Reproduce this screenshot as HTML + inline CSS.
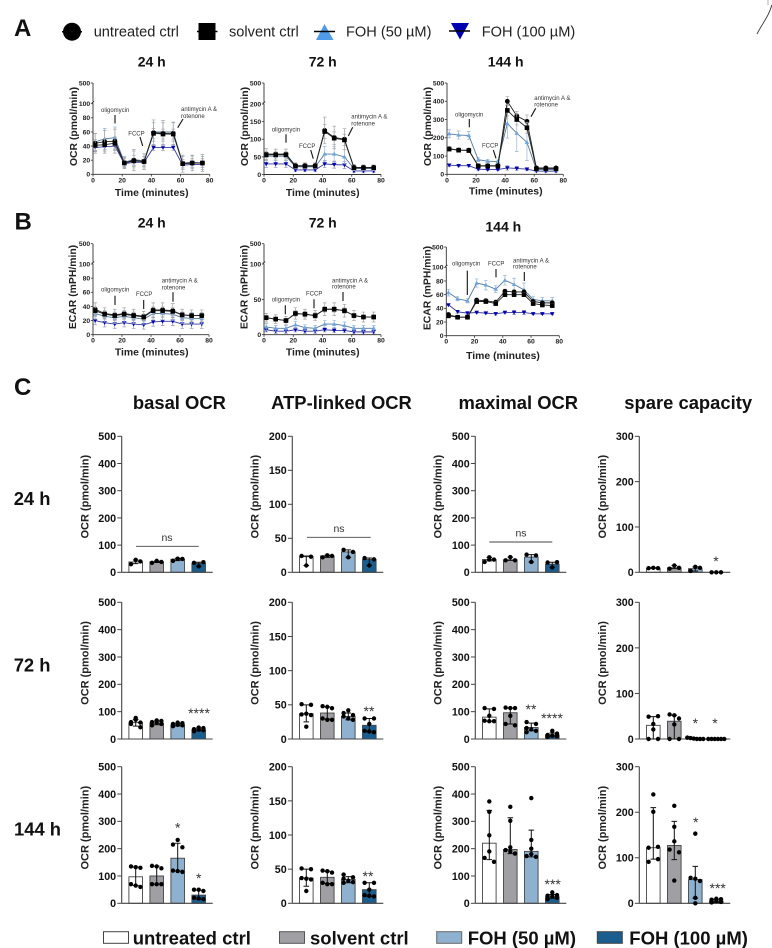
<!DOCTYPE html>
<html lang="en">
<head>
<meta charset="utf-8">
<title>Mitochondrial respiration after FOH treatment</title>
<style>
html,body{margin:0;padding:0;background:#fff;}
svg{display:block;font-family:"Liberation Sans",sans-serif;}
.panel{font-size:24px;font-weight:700;fill:#111;}
.ct{font-size:14px;font-weight:700;text-anchor:middle;fill:#111;}
.ylab{font-size:10.4px;font-weight:700;text-anchor:middle;fill:#222;}
.xlab{font-size:10.4px;font-weight:700;text-anchor:middle;fill:#222;}
.ann{font-size:6px;fill:#333;}
.arrow{stroke:#111;stroke-width:1.1;fill:none;}
.coltitle{font-size:18.4px;font-weight:700;text-anchor:middle;fill:#111;}
.rowlab{font-size:18.4px;font-weight:700;fill:#111;}
.bylab{font-size:11px;font-weight:700;text-anchor:middle;fill:#222;}
.ns{font-size:10.5px;text-anchor:middle;fill:#333;}
.star{font-size:14px;text-anchor:middle;fill:#333;}
.toplegend{font-size:14.6px;fill:#222;}
.botlegend{font-size:18.5px;font-weight:700;fill:#111;}
</style>
</head>
<body>
<svg id="figure" width="772" height="948" viewBox="0 0 772 948" xmlns="http://www.w3.org/2000/svg">
  <rect width="772" height="948" fill="#fff"/>
  <path d="M757 34 C762 24 769 16 771.8 5" fill="none" stroke="#333" stroke-width="0.9"/>
  <line x1="768" y1="0" x2="768" y2="5" stroke="#999" stroke-width="0.8"/>

  <text class="panel" x="14" y="36">A</text>
  <text class="panel" x="14.5" y="229.5">B</text>
  <text class="panel" x="14" y="395">C</text>

  <g>
    <g>
      <line x1="62" y1="31.7" x2="82" y2="31.7" stroke="#000" stroke-width="1.5"/>
      <circle cx="72" cy="31.7" r="9" fill="#000"/>
      <text class="toplegend" x="93.7" y="36.7">untreated ctrl</text>
    </g>
    <g>
      <line x1="197" y1="31.5" x2="217.5" y2="31.5" stroke="#000" stroke-width="1.5"/>
      <rect x="198.5" y="23" width="17" height="17" fill="#000"/>
      <text class="toplegend" x="229" y="36.7">solvent ctrl</text>
    </g>
    <g>
      <polygon points="324.5,24 333.5,40 316,40" fill="#4f9be8"/>
      <line x1="314" y1="31.5" x2="335" y2="31.5" stroke="#000" stroke-width="1.5"/>
      <text class="toplegend" x="346" y="36.7">FOH (50 µM)</text>
    </g>
    <g>
      <polygon points="451,23 469,23 460,39.5" fill="#0000b0"/>
      <line x1="449" y1="31" x2="470" y2="31" stroke="#000" stroke-width="1.5"/>
      <text class="toplegend" x="481.7" y="36.7">FOH (100 µM)</text>
    </g>
  </g>

  <g>
    <text class="ct" x="151.7" y="66.7">24 h</text>
    <text class="ct" x="322.7" y="66.7">72 h</text>
    <text class="ct" x="505.7" y="66.7">144 h</text>
    <text class="ct" x="151.7" y="227.7">24 h</text>
    <text class="ct" x="322.7" y="227.7">72 h</text>
    <text class="ct" x="503.3" y="231.7">144 h</text>
  </g>

  <g>
    <text class="ylab" transform="translate(77 126.5) rotate(-90)">OCR (pmol/min)</text>
    <text class="ylab" transform="translate(248 126.5) rotate(-90)">OCR (pmol/min)</text>
    <text class="ylab" transform="translate(431 126.5) rotate(-90)">OCR (pmol/min)</text>
    <text class="ylab" transform="translate(76 287) rotate(-90)">ECAR (mPH/min)</text>
    <text class="ylab" transform="translate(247.5 287) rotate(-90)">ECAR (mPH/min)</text>
    <text class="ylab" transform="translate(430.5 288) rotate(-90)">ECAR (mPH/min)</text>
    <text class="xlab" x="151.7" y="196">Time (minutes)</text>
    <text class="xlab" x="322.7" y="196">Time (minutes)</text>
    <text class="xlab" x="505.7" y="194.5">Time (minutes)</text>
    <text class="xlab" x="151.7" y="355.7">Time (minutes)</text>
    <text class="xlab" x="322.7" y="355.7">Time (minutes)</text>
    <text class="xlab" x="503" y="359">Time (minutes)</text>
  </g>

  <g>
    <text class="ann" x="101" y="112">oligomycin</text>
    <line class="arrow" x1="115" y1="115" x2="115" y2="123.5"/>
    <text class="ann" x="128.3" y="135.3">FCCP</text>
    <line class="arrow" x1="140" y1="137" x2="142.7" y2="146"/>
    <text class="ann" x="181" y="111">antimycin A &amp;</text>
    <text class="ann" x="181" y="118">rotenone</text>
    <line class="arrow" x1="183" y1="119" x2="177.7" y2="127.7"/>

    <text class="ann" x="271.7" y="131.7">oligomycin</text>
    <line class="arrow" x1="286" y1="134.3" x2="286" y2="142.7"/>
    <text class="ann" x="299" y="148">FCCP</text>
    <line class="arrow" x1="310.7" y1="150" x2="313.3" y2="158.7"/>
    <text class="ann" x="351.3" y="118.7">antimycin A &amp;</text>
    <text class="ann" x="351.3" y="125.7">rotenone</text>
    <line class="arrow" x1="352.7" y1="127.3" x2="348.3" y2="136"/>

    <text class="ann" x="455" y="116.3">oligomycin</text>
    <line class="arrow" x1="469.3" y1="119" x2="469.3" y2="127.3"/>
    <text class="ann" x="482" y="147.3">FCCP</text>
    <line class="arrow" x1="493.3" y1="150" x2="496" y2="158.3"/>
    <text class="ann" x="534.3" y="100">antimycin A &amp;</text>
    <text class="ann" x="534.3" y="106.3">rotenone</text>
    <line class="arrow" x1="535.7" y1="108.3" x2="531" y2="116.7"/>

    <text class="ann" x="101" y="291.3">oligomycin</text>
    <line class="arrow" x1="115" y1="295.7" x2="115" y2="305"/>
    <text class="ann" x="136" y="296">FCCP</text>
    <line class="arrow" x1="143.7" y1="300" x2="143.7" y2="309"/>
    <text class="ann" x="161.7" y="282.7">antimycin A &amp;</text>
    <text class="ann" x="161.7" y="289.3">rotenone</text>
    <line class="arrow" x1="173" y1="292.3" x2="173" y2="301.7"/>

    <text class="ann" x="271.7" y="301.7">oligomycin</text>
    <line class="arrow" x1="285.3" y1="305.3" x2="285.3" y2="314.3"/>
    <text class="ann" x="306" y="295.3">FCCP</text>
    <line class="arrow" x1="314" y1="299.3" x2="314" y2="308.3"/>
    <text class="ann" x="332" y="282.3">antimycin A &amp;</text>
    <text class="ann" x="332" y="288.7">rotenone</text>
    <line class="arrow" x1="343" y1="292" x2="343" y2="301"/>

    <text class="ann" x="452" y="265.3">oligomycin</text>
    <line class="arrow" x1="467.3" y1="270.7" x2="467.3" y2="295"/>
    <text class="ann" x="488" y="265.3">FCCP</text>
    <line class="arrow" x1="496" y1="269" x2="496" y2="277.3"/>
    <text class="ann" x="513" y="262.3">antimycin A &amp;</text>
    <text class="ann" x="513" y="268.7">rotenone</text>
    <line class="arrow" x1="524.3" y1="272" x2="524.3" y2="281"/>
  </g>

  <g>
    <text class="coltitle" x="179.4" y="409">basal OCR</text>
    <text class="coltitle" x="341.5" y="409">ATP-linked OCR</text>
    <text class="coltitle" x="518.3" y="409">maximal OCR</text>
    <text class="coltitle" x="688.2" y="409">spare capacity</text>
  </g>
  <g>
    <text class="rowlab" x="13.7" y="505">24 h</text>
    <text class="rowlab" x="13.7" y="671.7">72 h</text>
    <text class="rowlab" x="14" y="835.7">144 h</text>
  </g>

  <g>
    <text class="bylab" transform="translate(88.5 496.7) rotate(-90)">OCR (pmol/min)</text>
    <text class="bylab" transform="translate(258.7 496.7) rotate(-90)">OCR (pmol/min)</text>
    <text class="bylab" transform="translate(441.7 496.7) rotate(-90)">OCR (pmol/min)</text>
    <text class="bylab" transform="translate(606 496.7) rotate(-90)">OCR (pmol/min)</text>
    <text class="bylab" transform="translate(88.5 663) rotate(-90)">OCR (pmol/min)</text>
    <text class="bylab" transform="translate(258.7 663) rotate(-90)">OCR (pmol/min)</text>
    <text class="bylab" transform="translate(441.7 663) rotate(-90)">OCR (pmol/min)</text>
    <text class="bylab" transform="translate(606 663) rotate(-90)">OCR (pmol/min)</text>
    <text class="bylab" transform="translate(88.5 827.7) rotate(-90)">OCR (pmol/min)</text>
    <text class="bylab" transform="translate(258.7 827.7) rotate(-90)">OCR (pmol/min)</text>
    <text class="bylab" transform="translate(441.7 827.7) rotate(-90)">OCR (pmol/min)</text>
    <text class="bylab" transform="translate(606 827.7) rotate(-90)">OCR (pmol/min)</text>
  </g>

  <g>
    <line x1="136" y1="546.3" x2="198.7" y2="546.3" stroke="#444" stroke-width="0.9"/>
    <text class="ns" x="167" y="541">ns</text>
    <line x1="307" y1="537.3" x2="370.7" y2="537.3" stroke="#444" stroke-width="0.9"/>
    <text class="ns" x="339" y="532">ns</text>
    <line x1="489.3" y1="542" x2="552.3" y2="542" stroke="#444" stroke-width="0.9"/>
    <text class="ns" x="521" y="536.5">ns</text>
    <text class="star" x="716" y="566">*</text>
    <text class="star" x="199" y="718">****</text>
    <text class="star" x="369" y="716">**</text>
    <text class="star" x="531" y="714">**</text>
    <text class="star" x="552" y="723">****</text>
    <text class="star" x="695.3" y="728">*</text>
    <text class="star" x="715" y="728">*</text>
    <text class="star" x="177.7" y="832.3">*</text>
    <text class="star" x="198.7" y="883">*</text>
    <text class="star" x="368" y="881">**</text>
    <text class="star" x="552.7" y="889">***</text>
    <text class="star" x="695.7" y="827">*</text>
    <text class="star" x="717.7" y="893">***</text>
  </g>

  <g>
    <g>
      <rect x="103.5" y="931.7" width="25" height="11.6" fill="#fff" stroke="#444" stroke-width="1"/>
      <text class="botlegend" x="132.7" y="944.3">untreated ctrl</text>
    </g>
    <g>
      <rect x="279.5" y="931.7" width="25" height="11.6" fill="#a09fa3" stroke="#555" stroke-width="1"/>
      <text class="botlegend" x="310" y="944.3">solvent ctrl</text>
    </g>
    <g>
      <rect x="436.7" y="931.7" width="25" height="11.6" fill="#8db1cf" stroke="#666" stroke-width="1"/>
      <text class="botlegend" x="467.7" y="944.3">FOH (50 µM)</text>
    </g>
    <g>
      <rect x="597.3" y="931.7" width="25" height="11.6" fill="#1a5e90" stroke="#444" stroke-width="1"/>
      <text class="botlegend" x="629.3" y="944.3">FOH (100 µM)</text>
    </g>
  </g>
</svg>

<script>
/* ---------- time-course data ---------- */
const timeMinutes = [1.5,8,15,21.5,28,35,41.5,48,55,61.5,68,75];
const timeTicks = [0,20,40,60,80];

const ocr24Ticks = [0,20,40,60,80,100,500];
const ocr24Untreated = [44,46,47,16,20,18,59,58,58,15,16,16];
const ocr24UntreatedSd = [14,16,17,8,15,11,18,18,16,12,11,12];
const ocr24Solvent = [41,42,44,16,19,18,58,57,57,15,16,16];
const ocr24SolventSd = [8,9,9,6,8,7,7,7,7,6,6,6];
const ocr24Foh50 = [46,50,52,17,21,19,60,60,60,16,17,16];
const ocr24Foh50Sd = [12,15,15,8,12,10,13,13,13,9,9,9];
const ocr24Foh100 = [38,39,40,15,17,17,38,38,38,13,14,14];
const ocr24Foh100Sd = [6,6,6,4,4,4,4,4,4,4,4,4];

const ocr72Ticks = [0,50,100,150,200,500];
const ocr72Untreated = [58,58,58,25,25,25,125,105,100,20,20,20];
const ocr72UntreatedSd = [15,14,14,8,8,8,38,32,30,8,7,7];
const ocr72Solvent = [56,56,56,24,24,24,122,103,98,19,19,19];
const ocr72SolventSd = [8,8,8,5,5,5,20,18,16,5,5,5];
const ocr72Foh50 = [52,52,52,22,22,22,58,58,50,17,17,17];
const ocr72Foh50Sd = [12,12,12,6,6,6,22,22,20,6,6,6];
const ocr72Foh100 = [30,30,30,13,13,13,30,28,27,10,10,10];
const ocr72Foh100Sd = [10,10,10,5,5,5,10,10,10,5,5,5];

const ocr144Ticks = [0,100,200,300,400,500];
const ocr144Untreated = [140,133,132,47,47,47,400,320,290,35,35,35];
const ocr144UntreatedSd = [5,5,5,5,5,5,25,25,35,5,4,4];
const ocr144Solvent = [138,132,130,45,45,45,350,300,255,30,30,30];
const ocr144SolventSd = [6,6,6,6,6,6,30,30,30,4,4,4];
const ocr144Foh50 = [222,215,213,80,72,70,278,225,175,25,25,25];
const ocr144Foh50Sd = [22,22,22,10,8,8,80,100,100,5,5,5];
const ocr144Foh100 = [50,47,47,28,26,26,35,32,28,18,17,17];
const ocr144Foh100Sd = [6,6,6,5,5,5,12,10,8,5,5,5];

const ecar24Ticks = [0,20,40,60,80,100,500];
const ecar24Untreated = [36,30,28,30,28,26,35,35,34,28,27,27];
const ecar24UntreatedSd = [9,8,8,8,8,7,10,10,10,8,8,8];
const ecar24Solvent = [34,29,27,29,27,25,34,34,33,28,27,27];
const ecar24SolventSd = [5,4,4,4,4,4,5,5,5,4,4,4];
const ecar24Foh50 = [30,26,24,26,24,22,30,30,29,24,23,23];
const ecar24Foh50Sd = [8,8,8,8,8,7,9,9,9,8,8,8];
const ecar24Foh100 = [20,17,15,17,15,14,18,19,19,15,15,15];
const ecar24Foh100Sd = [6,6,6,6,6,6,6,6,6,6,6,6];

const ecar72Ticks = [0,50,100,500];
const ecar72Untreated = [24,22,20,30,29,27,36,36,34,27,25,25];
const ecar72UntreatedSd = [6,6,6,8,7,7,9,9,9,7,7,7];
const ecar72Solvent = [24,22,20,30,29,27,36,36,34,27,25,25];
const ecar72SolventSd = [3,3,3,4,4,4,4,4,4,3,3,3];
const ecar72Foh50 = [11,9,9,14,10,9,15,15,13,9,9,9];
const ecar72Foh50Sd = [5,4,4,5,4,4,5,5,5,4,4,4];
const ecar72Foh100 = [7,5,5,7,5,5,7,6,6,4,4,4];
const ecar72Foh100Sd = [3,3,3,3,3,3,3,3,3,3,3,3];

const ecar144Ticks = [0,20,40,60,80,100,500];
const ecar144Untreated = [31,27,27,52,51,49,65,64,64,50,48,48];
const ecar144UntreatedSd = [2,2,2,3,3,3,3,3,3,3,3,3];
const ecar144Solvent = [29,27,27,50,50,47,60,60,60,47,45,44];
const ecar144SolventSd = [2,2,2,3,3,3,3,3,3,3,3,3];
const ecar144Foh50 = [63,54,51,77,74,68,81,75,67,53,51,51];
const ecar144Foh50Sd = [5,3,3,6,7,5,7,9,10,4,5,5];
const ecar144Foh100 = [45,35,33,34,33,32,34,34,34,32,32,32];
const ecar144Foh100Sd = [1,2,2,2,1,2,2,3,3,1,1,1];

/* ---------- endpoint data: one entry per treatment group ---------- */
const basalTicks = [0,100,200,300,400,500];
const atpTicks = [0,50,100,150,200];
const maximalTicks = [0,100,200,300,400,500];
const spareTicks = [0,100,200,300];

const basal24Dots = [[30,46,40],[35,42,38],[42,50,49],[35,22,37]];
const basal24Bars = [38,38,48,33];
const basal24Low = [32,36,43,22];
const basal24High = [45,41,51,37];
const atp24Dots = [[24,10,23],[22,25,24],[33,22,30],[21,10,19]];
const atp24Bars = [23,24,30,19];
const atp24Low = [10,22,22,10];
const atp24High = [24,25,33,21];
const maximal24Dots = [[38,47,47,55],[44,56,44],[65,38,62],[36,18,37]];
const maximal24Bars = [47,46,56,30];
const maximal24Low = [42,44,38,18];
const maximal24High = [55,56,65,37];
const spare24Dots = [[9,10,9],[8,15,10],[3,12,10],[0,0,0]];
const spare24Bars = [9,10,8,0];
const spare24Low = [9,8,3,0];
const spare24High = [10,15,12,0];

const basal72Dots = [[62,77,70,60,55,43],[68,66,62,60,55,50],[60,58,55,52,50,47],[42,40,36,34,32,28]];
const basal72Bars = [60,58,52,34];
const basal72Low = [47,52,48,30];
const basal72High = [72,66,57,40];
const atp72Dots = [[51,50,36,37,35,18],[48,47,45,30,28,28],[42,38,35,33,30,28],[30,30,22,12,11,10]];
const atp72Bars = [37,38,33,20];
const atp72Low = [25,29,28,10];
const atp72High = [50,47,38,30];
const maximal72Dots = [[113,110,85,67,65,65],[115,113,113,85,55,50],[62,55,40,35,30,25],[30,20,15,12,10,8]];
const maximal72Bars = [80,96,42,15];
const maximal72Low = [65,55,30,10];
const maximal72High = [110,113,58,22];
const spare72Dots = [[49,50,33,21,0,0],[54,52,45,32,0,0],[3,2,1,0,0,0],[0,0,0,0,0,0]];
const spare72Bars = [30,39,1,0];
const spare72Low = [0,0,0,0];
const spare72High = [49,52,3,0];

const basal144Dots = [[135,132,130,70,65,60],[137,135,128,70,70,70],[232,215,205,120,118,115],[50,50,45,20,18,15]];
const basal144Bars = [97,100,165,30];
const basal144Low = [65,70,118,15];
const basal144High = [133,136,220,48];
const atp144Dots = [[51,50,37,36,35,18],[48,47,45,30,28,28],[42,38,36,33,31,30],[30,30,20,12,11,10]];
const atp144Bars = [37,38,35,20];
const atp144Low = [25,29,30,10];
const atp144High = [50,47,39,30];
const maximal144Dots = [[373,335,249,190,166,152],[353,302,205,195,190,182],[385,232,200,173,180,170],[40,30,28,25,20,15]];
const maximal144Bars = [220,197,190,24];
const maximal144Low = [160,182,170,18];
const maximal144High = [340,313,268,32];
const spare144Dots = [[239,201,122,124,91,97],[214,168,136,118,112,50],[153,56,54,49,12,0],[10,9,8,5,3,2]];
const spare144Bars = [122,127,52,5];
const spare144Low = [97,96,11,2];
const spare144High = [210,180,81,9];

/* ---------- drawing ---------- */
const svgNS = 'http://www.w3.org/2000/svg';
const figure = document.getElementById('figure');

function make(parent, tag, props, text) {
  const node = document.createElementNS(svgNS, tag);
  for (const key in props) node.setAttribute(key, props[key]);
  if (text !== undefined) node.textContent = text;
  parent.appendChild(node);
  return node;
}

function lineYScale(f) {
  return function (v) {
    if (v > f.low) return f.yHigh + (v - f.low) / (f.max - f.low) * (f.yTop - f.yHigh);
    return f.y0 + v / f.low * (f.yLow - f.y0);
  };
}
function lineXScale(f) {
  return function (t) { return f.x0 + t / 80 * (f.x1 - f.x0); };
}

const seriesStyles = [
  {key: 'foh100', shape: 'down', fill: '#0000b0', line: '#3a3a9a', err: '#8f8fc4'},
  {key: 'foh50', shape: 'up', fill: '#6fa6e2', line: '#55789c', err: '#98b4d0'},
  {key: 'untreated', shape: 'circle', fill: '#000', line: '#222', err: '#a0a0a0'},
  {key: 'solvent', shape: 'square', fill: '#000', line: '#222', err: '#a8a8a8'}
];

function drawMarker(g, shape, x, y, fill) {
  let m;
  if (shape === 'circle') {
    m = make(g, 'circle', {cx: x, cy: y, r: 2.4, fill: fill});
  } else if (shape === 'square') {
    m = make(g, 'rect', {x: x - 2.3, y: y - 2.3, width: 4.6, height: 4.6, fill: fill});
  } else if (shape === 'up') {
    m = make(g, 'polygon', {points: [x, y - 2.4, x + 2.3, y + 1.6, x - 2.3, y + 1.6].join(' '), fill: fill});
  } else {
    m = make(g, 'polygon', {points: [x - 2.3, y - 1.7, x + 2.3, y - 1.7, x, y + 2.3].join(' '), fill: fill});
  }
  
  
}

function drawLineChart(chart) {
  const f = chart.frame;
  const xs = lineXScale(f);
  const ys = lineYScale(f);
  const g = make(figure, 'g', {});
  
  

  seriesStyles.forEach(function (style) {
    const series = chart.series[style.key];
    const sg = make(g, 'g', {});
    
    
    timeMinutes.forEach(function (t, i) {
      const x = xs(t);
      const hi = ys(series.values[i] + series.sd[i]);
      const lo = ys(Math.max(0, series.values[i] - series.sd[i]));
      const eb = make(sg, 'path', {
        d: 'M' + x + ' ' + lo + 'V' + hi + 'M' + (x - 1.8) + ' ' + hi + 'H' + (x + 1.8) + 'M' + (x - 1.8) + ' ' + lo + 'H' + (x + 1.8),
        stroke: style.err, 'stroke-width': 0.7, fill: 'none'
      });
      
      
    });
    const path = make(sg, 'polyline', {
      points: timeMinutes.map(function (t, i) { return xs(t) + ',' + ys(series.values[i]); }).join(' '),
      fill: 'none', stroke: style.line, 'stroke-width': 0.9
    });
    
    
    timeMinutes.forEach(function (t, i) {
      drawMarker(sg, style.shape, xs(t), ys(series.values[i]), style.fill);
    });
  });

  const axisColor = '#333';
  let yPath = 'M' + f.x0 + ' ' + f.y0 + 'V' + f.yLow;
  if (f.yHigh !== f.yLow) {
    yPath += 'l-0.8 -1 l1.6 -1 l-0.8 -0.6V' + f.yTop;
  }
  const yAxis = make(g, 'path', {d: yPath, fill: 'none', stroke: axisColor, 'stroke-width': 0.9});
  
  
  const xAxis = make(g, 'line', {x1: f.x0, x2: f.x1, y1: f.y0, y2: f.y0, stroke: axisColor, 'stroke-width': 0.9});
  
  

  chart.ticks.forEach(function (tick) {
    const y = ys(tick);
    const mark = make(g, 'line', {x1: f.x0 - 2.2, x2: f.x0, y1: y, y2: y, stroke: axisColor, 'stroke-width': 0.8});
    
    
    const label = make(g, 'text', {x: f.x0 - 2.8, y: y + 2.4, 'text-anchor': 'end', 'font-size': 6.8, 'font-weight': 700, fill: '#222'}, tick);
    
    
  });
  timeTicks.forEach(function (tick) {
    const x = xs(tick);
    const mark = make(g, 'line', {x1: x, x2: x, y1: f.y0, y2: f.y0 + 2.2, stroke: axisColor, 'stroke-width': 0.8});
    
    
    const label = make(g, 'text', {x: x, y: f.y0 + 8, 'text-anchor': 'middle', 'font-size': 6.8, 'font-weight': 700, fill: '#222'}, tick);
    
    
  });
}

const lineCharts = [
  {name: 'ocr-24h-chart', ticks: ocr24Ticks,
   frame: {x0: 93, x1: 209.7, y0: 174.3, yLow: 103.7, yHigh: 101, yTop: 83, low: 100, max: 500},
   series: {untreated: {values: ocr24Untreated, sd: ocr24UntreatedSd}, solvent: {values: ocr24Solvent, sd: ocr24SolventSd},
            foh50: {values: ocr24Foh50, sd: ocr24Foh50Sd}, foh100: {values: ocr24Foh100, sd: ocr24Foh100Sd}}},
  {name: 'ocr-72h-chart', ticks: ocr72Ticks,
   frame: {x0: 264, x1: 381, y0: 174.5, yLow: 104, yHigh: 101.5, yTop: 83, low: 200, max: 500},
   series: {untreated: {values: ocr72Untreated, sd: ocr72UntreatedSd}, solvent: {values: ocr72Solvent, sd: ocr72SolventSd},
            foh50: {values: ocr72Foh50, sd: ocr72Foh50Sd}, foh100: {values: ocr72Foh100, sd: ocr72Foh100Sd}}},
  {name: 'ocr-144h-chart', ticks: ocr144Ticks,
   frame: {x0: 447, x1: 563.3, y0: 174.3, yLow: 83, yHigh: 83, yTop: 83, low: 500, max: 500},
   series: {untreated: {values: ocr144Untreated, sd: ocr144UntreatedSd}, solvent: {values: ocr144Solvent, sd: ocr144SolventSd},
            foh50: {values: ocr144Foh50, sd: ocr144Foh50Sd}, foh100: {values: ocr144Foh100, sd: ocr144Foh100Sd}}},
  {name: 'ecar-24h-chart', ticks: ecar24Ticks,
   frame: {x0: 93, x1: 209, y0: 334.7, yLow: 264, yHigh: 261.5, yTop: 243.7, low: 100, max: 500},
   series: {untreated: {values: ecar24Untreated, sd: ecar24UntreatedSd}, solvent: {values: ecar24Solvent, sd: ecar24SolventSd},
            foh50: {values: ecar24Foh50, sd: ecar24Foh50Sd}, foh100: {values: ecar24Foh100, sd: ecar24Foh100Sd}}},
  {name: 'ecar-72h-chart', ticks: ecar72Ticks,
   frame: {x0: 264, x1: 381, y0: 334.7, yLow: 264, yHigh: 261.5, yTop: 243.7, low: 100, max: 500},
   series: {untreated: {values: ecar72Untreated, sd: ecar72UntreatedSd}, solvent: {values: ecar72Solvent, sd: ecar72SolventSd},
            foh50: {values: ecar72Foh50, sd: ecar72Foh50Sd}, foh100: {values: ecar72Foh100, sd: ecar72Foh100Sd}}},
  {name: 'ecar-144h-chart', ticks: ecar144Ticks,
   frame: {x0: 446.3, x1: 559.3, y0: 335.7, yLow: 267.3, yHigh: 265, yTop: 247, low: 100, max: 500},
   series: {untreated: {values: ecar144Untreated, sd: ecar144UntreatedSd}, solvent: {values: ecar144Solvent, sd: ecar144SolventSd},
            foh50: {values: ecar144Foh50, sd: ecar144Foh50Sd}, foh100: {values: ecar144Foh100, sd: ecar144Foh100Sd}}}
];
lineCharts.forEach(drawLineChart);

/* ---------- bar panels ---------- */
const groupFills = ['#ffffff', '#a09fa3', '#8db1cf', '#1a5e90'];

function swarmOffsets(values, pxPerUnit) {
  const order = values.map(function (v, i) { return i; }).sort(function (a, b) { return values[a] - values[b] || a - b; });
  const offsets = new Array(values.length).fill(0);
  const columns = [-4.7, 4.7, 0];
  let bin = [];
  function flush() {
    const n = bin.length;
    if (n <= 3) {
      const members = bin.slice().sort(function (a, b) { return a - b; });
      members.forEach(function (idx, k) {
        offsets[idx] = n > 1 ? -4.7 + k * (9.4 / (n - 1)) : 0;
      });
      return;
    }
    const span = (values[bin[n - 1]] - values[bin[0]]) * pxPerUnit;
    if (span < 2) {
      const flat = bin.slice().sort(function (a, b) { return a - b; });
      flat.forEach(function (idx, k) {
        offsets[idx] = -8 + k * (16 / (n - 1));
      });
    } else {
      bin.forEach(function (idx, k) {
        offsets[idx] = columns[k % 3];
      });
    }
  }
  order.forEach(function (idx) {
    if (bin.length && (values[idx] - values[bin[0]]) * pxPerUnit > 4.5) {
      flush();
      bin = [];
    }
    bin.push(idx);
  });
  flush();
  return offsets;
}

function drawBarPanel(p) {
  const scale = function (v) { return p.y0 + v / p.max * (p.yTop - p.y0); };
  const pxPerUnit = (p.y0 - p.yTop) / p.max;
  const g = make(figure, 'g', {});
  
  

  p.bars.forEach(function (value, i) {
    const cx = p.x + 14 + i * 21;
    const bar = make(g, 'rect', {x: cx - 6.8, y: scale(value), width: 13.6, height: p.y0 - scale(value), fill: groupFills[i], stroke: '#444', 'stroke-width': 0.9});
    
    
  });

  const axisColor = '#444';
  const yAxis = make(g, 'line', {x1: p.x, x2: p.x, y1: p.y0, y2: p.yTop, stroke: axisColor, 'stroke-width': 1.1});
  
  
  const xAxis = make(g, 'line', {x1: p.x, x2: p.x + 91, y1: p.y0, y2: p.y0, stroke: axisColor, 'stroke-width': 1.1});
  
  

  p.ticks.forEach(function (tick) {
    const y = scale(tick);
    const mark = make(g, 'line', {x1: p.x - 4.4, x2: p.x, y1: y, y2: y, stroke: axisColor, 'stroke-width': 1});
    
    
    const label = make(g, 'text', {x: p.x - 5.6, y: y + 3.9, 'text-anchor': 'end', 'font-size': 10.7, 'font-weight': 700, fill: '#111'}, tick);
    
    
  });

  p.bars.forEach(function (value, i) {
    const cx = p.x + 14 + i * 21;
    const hi = scale(p.high[i]);
    const lo = scale(p.low[i]);
    const eb = make(g, 'path', {
      d: 'M' + cx + ' ' + lo + 'V' + hi + 'M' + (cx - 2.8) + ' ' + hi + 'H' + (cx + 2.8) + 'M' + (cx - 2.8) + ' ' + lo + 'H' + (cx + 2.8),
      stroke: '#111', 'stroke-width': 1, fill: 'none'
    });
    
    
    const offsets = swarmOffsets(p.dots[i], pxPerUnit);
    p.dots[i].forEach(function (v, k) {
      const dot = make(g, 'circle', {cx: cx + offsets[k], cy: scale(v), r: 2.2, fill: '#000'});
      
      
    });
  });
}

const columnX = [121.7, 292.3, 475.3, 639.3];
const rowFrames = [
  {y0: 572.3, yTop: 436.3, tag: '24h'},
  {y0: 739, yTop: 602.3, tag: '72h'},
  {y0: 903.3, yTop: 766.7, tag: '144h'}
];
const barPanels = [
  {name: 'basal-ocr-24h-chart', col: 0, row: 0, max: 500, ticks: basalTicks, dots: basal24Dots, bars: basal24Bars, low: basal24Low, high: basal24High},
  {name: 'atp-linked-ocr-24h-chart', col: 1, row: 0, max: 200, ticks: atpTicks, dots: atp24Dots, bars: atp24Bars, low: atp24Low, high: atp24High},
  {name: 'maximal-ocr-24h-chart', col: 2, row: 0, max: 500, ticks: maximalTicks, dots: maximal24Dots, bars: maximal24Bars, low: maximal24Low, high: maximal24High},
  {name: 'spare-capacity-24h-chart', col: 3, row: 0, max: 300, ticks: spareTicks, dots: spare24Dots, bars: spare24Bars, low: spare24Low, high: spare24High},
  {name: 'basal-ocr-72h-chart', col: 0, row: 1, max: 500, ticks: basalTicks, dots: basal72Dots, bars: basal72Bars, low: basal72Low, high: basal72High},
  {name: 'atp-linked-ocr-72h-chart', col: 1, row: 1, max: 200, ticks: atpTicks, dots: atp72Dots, bars: atp72Bars, low: atp72Low, high: atp72High},
  {name: 'maximal-ocr-72h-chart', col: 2, row: 1, max: 500, ticks: maximalTicks, dots: maximal72Dots, bars: maximal72Bars, low: maximal72Low, high: maximal72High},
  {name: 'spare-capacity-72h-chart', col: 3, row: 1, max: 300, ticks: spareTicks, dots: spare72Dots, bars: spare72Bars, low: spare72Low, high: spare72High},
  {name: 'basal-ocr-144h-chart', col: 0, row: 2, max: 500, ticks: basalTicks, dots: basal144Dots, bars: basal144Bars, low: basal144Low, high: basal144High},
  {name: 'atp-linked-ocr-144h-chart', col: 1, row: 2, max: 200, ticks: atpTicks, dots: atp144Dots, bars: atp144Bars, low: atp144Low, high: atp144High},
  {name: 'maximal-ocr-144h-chart', col: 2, row: 2, max: 500, ticks: maximalTicks, dots: maximal144Dots, bars: maximal144Bars, low: maximal144Low, high: maximal144High},
  {name: 'spare-capacity-144h-chart', col: 3, row: 2, max: 300, ticks: spareTicks, dots: spare144Dots, bars: spare144Bars, low: spare144Low, high: spare144High}
];
barPanels.forEach(function (panel) {
  panel.x = columnX[panel.col];
  panel.y0 = rowFrames[panel.row].y0;
  panel.yTop = rowFrames[panel.row].yTop;
  drawBarPanel(panel);
});
</script>
</body>
</html>
